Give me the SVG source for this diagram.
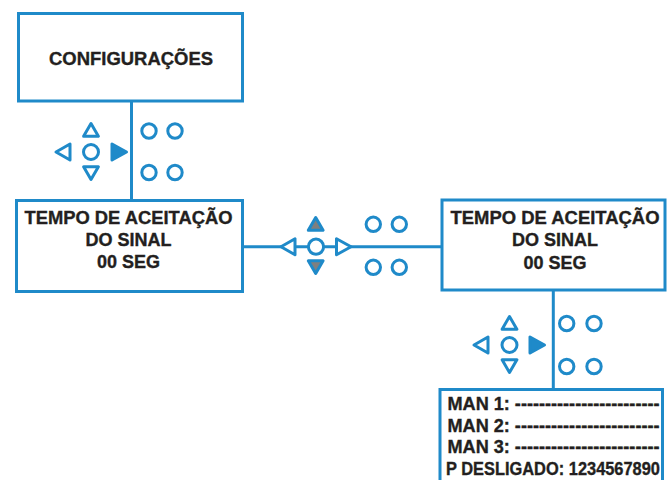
<svg xmlns="http://www.w3.org/2000/svg" width="667" height="480" viewBox="0 0 667 480">
<style>
.box{fill:#fff;stroke:#1f8ac9;stroke-width:3}
.ln{stroke:#1f8ac9;stroke-width:3;fill:none}
.ic{fill:#fff;stroke:#1f8ac9;stroke-width:3;stroke-linejoin:round}
.fb{fill:#1f8ac9;stroke:#1f8ac9;stroke-width:3;stroke-linejoin:round}
.fg{fill:#7f7f7f;stroke:#1f8ac9;stroke-width:3;stroke-linejoin:round}
text{font-family:"Liberation Sans",Arial,sans-serif;font-weight:bold;fill:#231f20;stroke:#231f20;stroke-width:0.35;font-size:18px}
.c{text-anchor:middle}
</style>
<defs>
<path id="up" d="M0,-6.5 L7.4,6.2 L-7.4,6.2 Z"/>
<path id="dn" d="M0,6.5 L7.4,-6.2 L-7.4,-6.2 Z"/>
<path id="lt" d="M-7,0 L7,-8 L7,8 Z"/>
<path id="rt" d="M7.5,0 L-7,-8 L-7,8 Z"/>
</defs>
<g id="connectors">
<line class="ln" x1="131.5" y1="101" x2="131.5" y2="200"/>
<line class="ln" x1="243" y1="246.7" x2="442" y2="246.7"/>
<line class="ln" x1="553.3" y1="290" x2="553.3" y2="389"/>
</g>
<g id="node-configuracoes">
<rect class="box" x="18.5" y="13.5" width="224" height="87.5"/>
<text class="c" x="131" y="65" textLength="164" lengthAdjust="spacingAndGlyphs">CONFIGURAÇÕES</text>
</g>
<g id="node-tempo-left">
<rect class="box" x="16.5" y="200.5" width="226" height="91"/>
<text class="c" x="128.5" y="224" textLength="208" lengthAdjust="spacingAndGlyphs">TEMPO DE ACEITAÇÃO</text>
<text class="c" x="128.5" y="246">DO SINAL</text>
<text class="c" x="128.5" y="268">00 SEG</text>
</g>
<g id="node-tempo-right">
<rect class="box" x="442" y="200" width="223" height="90"/>
<text class="c" x="555" y="224" textLength="209" lengthAdjust="spacingAndGlyphs">TEMPO DE ACEITAÇÃO</text>
<text class="c" x="555" y="246">DO SINAL</text>
<text class="c" x="555" y="269">00 SEG</text>
</g>
<g id="node-man">
<rect class="box" x="440" y="389.5" width="222.5" height="100"/>
<text x="447.5" y="410" font-size="17.5" textLength="212" lengthAdjust="spacingAndGlyphs">MAN 1: ------------------------</text>
<text x="447.5" y="431.5" font-size="17.5" textLength="212" lengthAdjust="spacingAndGlyphs">MAN 2: ------------------------</text>
<text x="447.5" y="452.5" font-size="17.5" textLength="212" lengthAdjust="spacingAndGlyphs">MAN 3: ------------------------</text>
<text x="446" y="474.5" font-size="17" textLength="214" lengthAdjust="spacingAndGlyphs">P DESLIGADO: 1234567890</text>
</g>
<g id="keypad-1">
<use href="#up" class="ic" x="91" y="130"/>
<use href="#dn" class="ic" x="91" y="173"/>
<use href="#lt" class="ic" x="63" y="152"/>
<use href="#rt" class="fb" x="119" y="152"/>
<circle class="ic" cx="91" cy="152" r="7.5"/>
<circle class="ic" cx="149" cy="131" r="7.2"/>
<circle class="ic" cx="175" cy="131" r="7.2"/>
<circle class="ic" cx="149" cy="172.5" r="7.2"/>
<circle class="ic" cx="175" cy="172.5" r="7.2"/>
</g>
<g id="keypad-2">
<use href="#up" class="fg" x="315.7" y="224"/>
<use href="#dn" class="fg" x="315.7" y="267"/>
<use href="#lt" class="ic" x="288" y="246.7"/>
<use href="#rt" class="ic" x="343.5" y="246.7"/>
<circle class="ic" cx="316" cy="246.7" r="7.6"/>
<circle class="ic" cx="373.3" cy="224.3" r="7.2"/>
<circle class="ic" cx="399.3" cy="224.3" r="7.2"/>
<circle class="ic" cx="373.3" cy="267.3" r="7.2"/>
<circle class="ic" cx="399.3" cy="267.3" r="7.2"/>
</g>
<g id="keypad-3">
<use href="#up" class="ic" x="509.5" y="323"/>
<use href="#dn" class="ic" x="509.5" y="366"/>
<use href="#lt" class="ic" x="481" y="345"/>
<use href="#rt" class="fb" x="537" y="345"/>
<circle class="ic" cx="509.5" cy="345" r="7.5"/>
<circle class="ic" cx="566.7" cy="323.5" r="7.2"/>
<circle class="ic" cx="594" cy="323.5" r="7.2"/>
<circle class="ic" cx="566.7" cy="366.5" r="7.2"/>
<circle class="ic" cx="594" cy="366.5" r="7.2"/>
</g>
</svg>
